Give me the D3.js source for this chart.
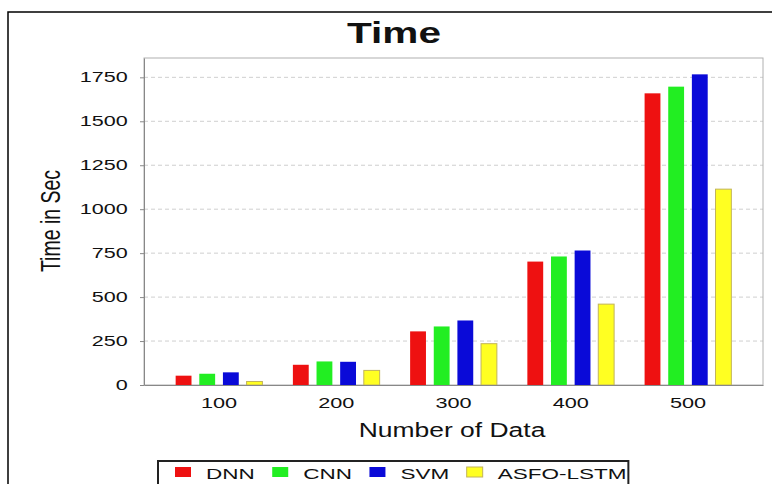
<!DOCTYPE html>
<html>
<head>
<meta charset="utf-8">
<script src="https://cdn.jsdelivr.net/npm/d3@7"></script>
<style>
  body { margin: 0; background: #fff; }
  text { font-family: "Liberation Sans", Arial, sans-serif; fill: #111; }
</style>
</head>
<body>
<div id="chart-area"></div>
<script>
const categories = ["100", "200", "300", "400", "500"];
const seriesNames = ["DNN", "CNN", "SVM", "ASFO-LSTM"];
const dnn = [53, 115, 305, 702, 1659];
const cnn = [64, 134, 333, 731, 1697];
const svm = [72, 132, 367, 765, 1767];
const asfoLstm = [20, 83, 235, 460, 1114];
const yTicks = [0, 250, 500, 750, 1000, 1250, 1500, 1750];

const colors = ["#ee1111", "#22ee22", "#0a0ad8", "#ffff22"];
const strokes = ["none", "none", "none", "#c2b45a"];

const width = 772, height = 484;
const margin = {top: 58, right: 9, bottom: 99, left: 144};

const series = [dnn, cnn, svm, asfoLstm];
const rows = categories.map((c, i) => ({cat: c, values: series.map(s => s[i])}));

var svg = d3.select("#chart-area").append("svg")
	.attr("width", width)
	.attr("height", height);

// outer frame (runs off the right and bottom edges)
svg.append("rect")
	.attr("x", 8).attr("y", 12)
	.attr("width", 820).attr("height", 520)
	.attr("fill", "none")
	.attr("stroke", "#000")
	.attr("stroke-width", 1.5);

var x0 = d3.scaleBand()
	.domain(categories)
	.range([margin.left, width - margin.right])
	.paddingInner(0.26)
	.paddingOuter(0.27);

var x1 = d3.scaleBand()
	.domain(seriesNames)
	.range([0, x0.bandwidth()])
	.paddingInner(0.33);

var y = d3.scaleLinear()
	.domain([0, 1860])
	.range([height - margin.bottom, margin.top]);

// gridlines
svg.append("g")
	.selectAll("line")
	.data(yTicks.slice(1))
	.enter().append("line")
	.attr("x1", margin.left)
	.attr("x2", width - margin.right)
	.attr("y1", d => y(d))
	.attr("y2", d => y(d))
	.attr("stroke", "#cfcfcf")
	.attr("stroke-dasharray", "4,3");

// plot border
svg.append("rect")
	.attr("x", margin.left)
	.attr("y", margin.top)
	.attr("width", width - margin.right - margin.left)
	.attr("height", height - margin.bottom - margin.top)
	.attr("fill", "none")
	.attr("stroke", "#b0b0b0");

// bars
svg.append("g")
	.selectAll("g")
	.data(rows)
	.enter().append("g")
	.attr("transform", d => `translate(${x0(d.cat)},0)`)
	.selectAll("rect")
	.data(d => d.values.map((v, i) => ({key: seriesNames[i], i: i, v: v})))
	.enter().append("rect")
	.attr("x", d => x1(d.key))
	.attr("y", d => y(d.v))
	.attr("width", x1.bandwidth())
	.attr("height", d => y(0) - y(d.v))
	.attr("fill", d => colors[d.i])
	.attr("stroke", d => strokes[d.i])
	.attr("stroke-width", 1);

// y axis
var yAxis = svg.append("g")
	.attr("transform", `translate(${margin.left},0)`)
	.call(d3.axisLeft(y).tickValues(yTicks).tickFormat(d3.format("d"))
		.tickSizeInner(4).tickSizeOuter(0).tickPadding(6.6));
yAxis.select(".domain").attr("stroke", "#888");
yAxis.selectAll(".tick line").attr("stroke", "#888");
yAxis.selectAll("text")
	.attr("font-size", 14)
	.attr("fill", "#111")
	.attr("transform", "scale(1.54,1)");

// x axis
var xAxis = svg.append("g")
	.attr("transform", `translate(0,${height - margin.bottom})`)
	.call(d3.axisBottom(x0).tickSize(0).tickPadding(13));
xAxis.select(".domain").attr("stroke", "#888");
xAxis.selectAll("text")
	.attr("font-size", 14)
	.attr("fill", "#111")
	.attr("transform", "scale(1.55,1)");

// title
svg.append("text")
	.attr("transform", "translate(394,43) scale(1.4,1)")
	.attr("text-anchor", "middle")
	.attr("font-size", 29)
	.attr("font-weight", "bold")
	.attr("fill", "#000")
	.text("Time");

// axis titles
svg.append("text")
	.attr("transform", "translate(60,221) scale(1.4,1) rotate(-90)")
	.attr("text-anchor", "middle")
	.attr("font-size", 19.5)
	.text("Time in Sec");

svg.append("text")
	.attr("transform", "translate(452,436.5) scale(1.26,1)")
	.attr("text-anchor", "middle")
	.attr("font-size", 21)
	.text("Number of Data");

// legend
var legend = svg.append("g");
var legendBox = legend.append("rect")
	.attr("fill", "#fff")
	.attr("stroke", "#222")
	.attr("stroke-width", 2);

var cursor = 175;
seriesNames.forEach(function(name, i) {
	legend.append("rect")
		.attr("x", cursor).attr("y", 467)
		.attr("width", 16).attr("height", 10)
		.attr("fill", colors[i])
		.attr("stroke", strokes[i]);
	cursor += 31;
	var t = legend.append("text")
		.attr("transform", `translate(${cursor},478.5) scale(1.5,1)`)
		.attr("font-size", 15)
		.text(name);
	cursor += t.node().getComputedTextLength() * 1.5;
	if (i < seriesNames.length - 1) cursor += 17.5;
});
legendBox
	.attr("x", 158).attr("y", 461)
	.attr("width", cursor + 2 - 158)
	.attr("height", 40);
</script>
</body>
</html>
